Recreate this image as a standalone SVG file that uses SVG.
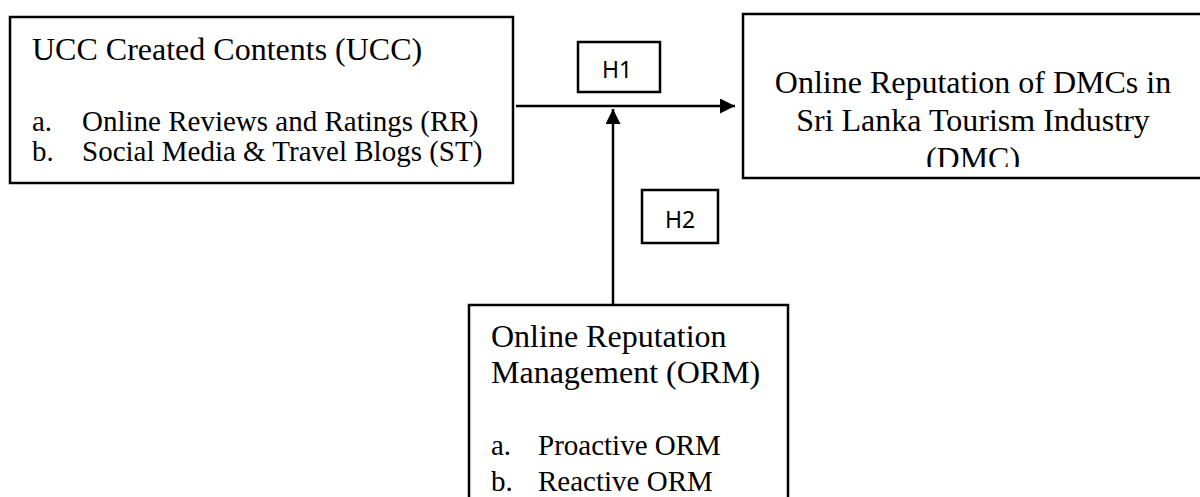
<svg xmlns="http://www.w3.org/2000/svg" width="1200" height="497" viewBox="0 0 1200 497">
<style>
.box{fill:#fff;stroke:#000;stroke-width:2.5}
.hbox{fill:#fff;stroke:#000;stroke-width:2.5}
.t{font-family:"Liberation Serif","Times New Roman",serif;font-size:32px;fill:#000}
.s{font-family:"Liberation Serif","Times New Roman",serif;font-size:29px;fill:#000}
.h{font-family:"Noto Sans","Liberation Sans",sans-serif;font-size:23px;fill:#000;text-anchor:middle}
.c{stroke:#000;stroke-width:2.5;fill:none}
</style>
<defs>
<marker id="ah" viewBox="0 0 10 10" refX="10" refY="5" markerWidth="6" markerHeight="6" orient="auto" markerUnits="strokeWidth">
<path d="M0,0 L10,5 L0,10 z" fill="#000"/>
</marker>
<clipPath id="dmcClip"><rect x="743" y="14" width="460" height="153"/></clipPath>
</defs>
<rect width="1200" height="497" fill="#fff"/>
<g id="connectors">
<line class="c" x1="516" y1="106" x2="735" y2="106" marker-end="url(#ah)"/>
<line class="c" x1="613" y1="305" x2="613" y2="109" marker-end="url(#ah)"/>
</g>
<g id="ucc">
<rect class="box" x="10" y="17" width="503" height="166"/>
<text class="t" x="32" y="60">UCC Created Contents (UCC)</text>
<text class="s" x="32" y="131">a.</text>
<text class="s" x="82" y="131">Online Reviews and Ratings (RR)</text>
<text class="s" x="32" y="161">b.</text>
<text class="s" x="82" y="161">Social Media &amp; Travel Blogs (ST)</text>
</g>
<g id="h1">
<rect class="hbox" x="578" y="42" width="82" height="50"/>
<text class="h" x="617" y="78">H1</text>
</g>
<g id="h2">
<rect class="hbox" x="642" y="190" width="76" height="53"/>
<text class="h" x="680" y="228">H2</text>
</g>
<g id="dmc">
<rect class="box" x="743" y="14" width="470" height="164"/>
<g clip-path="url(#dmcClip)">
<text class="t" x="973" y="93" text-anchor="middle">Online Reputation of DMCs in</text>
<text class="t" x="973" y="131" text-anchor="middle">Sri Lanka Tourism Industry</text>
<text class="t" x="973" y="169" text-anchor="middle">(DMC)</text>
</g>
</g>
<g id="orm">
<rect class="box" x="469" y="305" width="319" height="210"/>
<text class="t" x="491" y="347">Online Reputation</text>
<text class="t" x="491" y="383">Management (ORM)</text>
<text class="s" x="491" y="455">a.</text>
<text class="s" x="538" y="455">Proactive ORM</text>
<text class="s" x="491" y="491">b.</text>
<text class="s" x="538" y="491">Reactive ORM</text>
</g>
</svg>
